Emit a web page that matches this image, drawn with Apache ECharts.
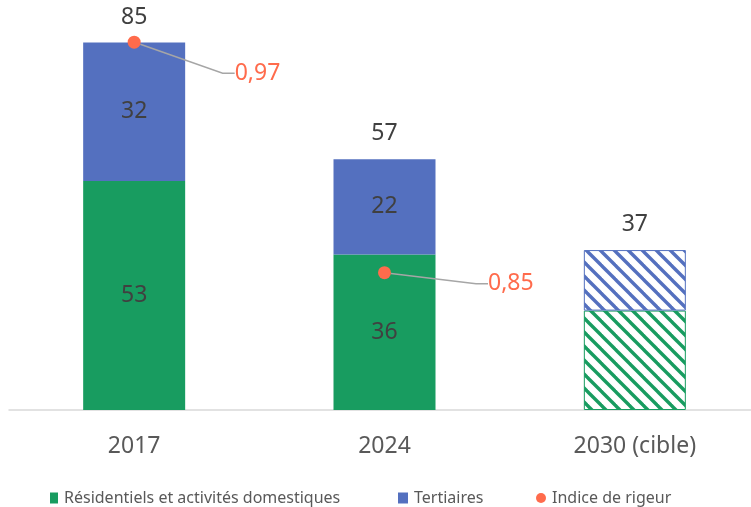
<!DOCTYPE html>
<html>
<head>
<meta charset="utf-8">
<script src="https://cdn.jsdelivr.net/npm/echarts@6/dist/echarts.min.js"></script>
<style>
  html, body { margin: 0; padding: 0; background: #fff; }
  #chart { width: 751px; height: 507px; }
</style>
</head>
<body>
<div id="chart"></div>
<script>
const categories = ["2017", "2024", "2030 (cible)"];
const residentiels = [53, 36, 23];
const tertiaires = [32, 22, 14];
const totals = [85, 57, 37];
const indice = [0.97, 0.85, null];

const GREEN = "#189C60";
const BLUE = "#5470BF";
const ORANGE = "#FF6B4C";

// hachures pour la cible 2030
function stripes(color) {
  const s = 14;
  const c = document.createElement("canvas");
  c.width = s;
  c.height = s;
  const ctx = c.getContext("2d");
  ctx.fillStyle = "#fff";
  ctx.fillRect(0, 0, s, s);
  ctx.strokeStyle = color;
  ctx.lineWidth = 3.4;
  [[-s, 0, s, 2 * s], [0, 0, s, s], [0, -s, 2 * s, s]].forEach(([x1, y1, x2, y2]) => {
    ctx.beginPath();
    ctx.moveTo(x1, y1);
    ctx.lineTo(x2, y2);
    ctx.stroke();
  });
  return { image: c, repeat: "repeat" };
}

const valueLabel = {
  show: true,
  position: "inside",
  color: "#404040",
  fontSize: 23,
  fontFamily: "Noto Sans",
};

function barData(values, color) {
  return values.map((v, i) => {
    if (i === 2) {
      return {
        value: v,
        itemStyle: { color: stripes(color), borderColor: color, borderWidth: 1 },
        label: { show: false },
      };
    }
    return v;
  });
}

const legendText = { fontSize: 16, color: "#595959", padding: [0, 0, 0, 1] };

const chart = echarts.init(document.getElementById("chart"));
chart.setOption({
  animation: false,
  textStyle: { fontFamily: "Noto Sans" },
  grid: { left: 9, width: 751, top: 21, bottom: 97, outerBoundsMode: "none", containLabel: false },
  legend: [
    {
      left: 50, top: 490, padding: 0, itemWidth: 8, itemHeight: 11,
      data: [{ name: "Résidentiels et activités domestiques", icon: "rect" }],
      textStyle: legendText,
    },
    {
      left: 398, top: 490, padding: 0, itemWidth: 10, itemHeight: 11,
      data: [{ name: "Tertiaires", icon: "rect" }],
      textStyle: legendText,
    },
    {
      left: 536, top: 490, padding: 0, itemWidth: 10, itemHeight: 10,
      data: [{ name: "Indice de rigeur", icon: "circle" }],
      textStyle: legendText,
    },
  ],
  xAxis: {
    type: "category",
    data: categories,
    axisLine: { lineStyle: { color: "#d9d9d9", width: 1.5 } },
    axisTick: { show: false },
    axisLabel: { color: "#595959", fontSize: 23, margin: 25 },
  },
  yAxis: [
    { type: "value", min: 0, max: 90, show: false, splitLine: { show: false } },
    { type: "value", min: 0.7785, max: 0.981, show: false, splitLine: { show: false } },
  ],
  series: [
    {
      name: "Résidentiels et activités domestiques",
      type: "bar",
      stack: "total",
      barWidth: 102,
      itemStyle: { color: GREEN },
      label: valueLabel,
      data: barData(residentiels, GREEN),
    },
    {
      name: "Tertiaires",
      type: "bar",
      stack: "total",
      barWidth: 102,
      itemStyle: { color: BLUE },
      label: valueLabel,
      data: barData(tertiaires, BLUE),
    },
    {
      name: "Total",
      type: "bar",
      stack: "total",
      barWidth: 102,
      data: totals.map(() => 0),
      label: {
        show: true,
        position: "top",
        distance: 14,
        color: "#404040",
        fontSize: 23,
        formatter: (p) => String(totals[p.dataIndex]),
      },
    },
    {
      name: "Indice de rigeur",
      type: "scatter",
      yAxisIndex: 1,
      symbolSize: 13,
      itemStyle: { color: ORANGE, opacity: 1 },
      data: indice,
      label: {
        show: true,
        position: "right",
        distance: 5,
        color: ORANGE,
        fontSize: 23,
        formatter: (p) => p.value.toFixed(2).replace(".", ","),
      },
      labelLine: {
        show: true,
        length2: 12,
        lineStyle: { color: "#a6a6a6", width: 1.5 },
      },
      labelLayout: (p) => (p.dataIndex === 0 ? { dx: 89, dy: 31 } : { dx: 92, dy: 11 }),
    },
  ],
});
</script>
</body>
</html>
